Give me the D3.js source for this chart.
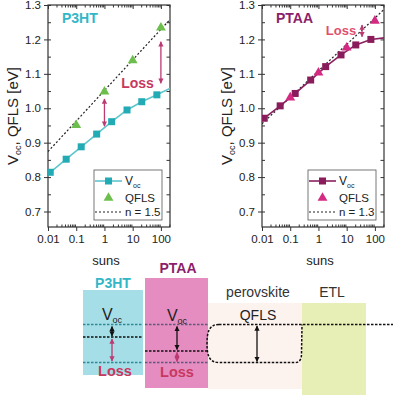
<!DOCTYPE html>
<html>
<head>
<meta charset="utf-8">
<script src="https://cdn.jsdelivr.net/npm/d3@7"></script>
<style>
  html, body { margin: 0; padding: 0; background: #fff; }
  svg { display: block; font-family: 'Liberation Sans', Arial, sans-serif; }
</style>
</head>
<body>
<div id="chart"></div>
<script>
'use strict';

// measured values (suns, eV)
const vocSuns = [0.012, 0.044, 0.15, 0.53, 1.8, 6.3, 21, 72, 300];
const p3htVoc = [0.814, 0.852, 0.888, 0.925, 0.961, 0.995, 1.019, 1.039, 1.064];
const ptaaVoc = [0.971, 1.007, 1.043, 1.082, 1.121, 1.155, 1.184, 1.200, 1.206];
const qflsSuns = [0.1, 1, 10, 100];
const p3htQfls = [0.954, 1.051, 1.142, 1.237];
const ptaaQfls = [1.034, 1.106, 1.179, 1.257];
const idealSuns = [0.01, 210];
const p3htIdeal = [0.874, 1.258];
const ptaaIdeal = [0.955, 1.287];
const p3htLoss = [{suns: 1, from: 0.948, to: 1.027}, {suns: 100, from: 1.073, to: 1.193}];
const ptaaLoss = [{suns: 35, from: 1.208, to: 1.242}];
const xTicks = [0.01, 0.1, 1, 10, 100];
const yTicks = [0.7, 0.8, 0.9, 1.0, 1.1, 1.2, 1.3];

// schematic
const layerNames = ['P3HT', 'PTAA', 'perovskite', 'ETL'];
const layerColors = ['#a5dee7', '#e58cc0', '#fcf2ee', '#e8efb6'];

const svg = d3.select('#chart').append('svg')
  .attr('width', 394)
  .attr('height', 399);

const defs = svg.append('defs');
function arrowMarker(id, color) {
  defs.append('marker')
    .attr('id', id)
    .attr('viewBox', '0 0 10 10')
    .attr('refX', 9).attr('refY', 5)
    .attr('markerWidth', 4).attr('markerHeight', 4)
    .attr('orient', 'auto-start-reverse')
    .append('path')
      .attr('d', 'M0,0 L10,5 L0,10 z')
      .attr('fill', color);
}
arrowMarker('arrowBlack', '#111');
arrowMarker('arrowPink', '#bb3a72');

class Chart {
  constructor(options) {
    this.left = options.left;
    this.right = options.right;
    this.top = 5;
    this.bottom = 227;
    this.name = options.name;
    this.nameColor = options.nameColor;
    this.voc = options.voc;
    this.qfls = options.qfls;
    this.ideal = options.ideal;
    this.idealLabel = options.idealLabel;
    this.loss = options.loss;
    this.lossLabel = options.lossLabel;
    this.lossColor = options.lossColor;
    this.lineColor = options.lineColor;
    this.squareColor = options.squareColor;
    this.triColor = options.triColor;
    this.clipId = options.clipId;
    this.titleX = options.titleX;
  }

  draw() {
    this.g = svg.append('g');
    this.x = d3.scaleLog().domain([0.01, 210]).range([this.left, this.right]);
    this.y = d3.scaleLinear().domain([0.655, 1.3]).range([this.bottom, this.top]);
    defs.append('clipPath').attr('id', this.clipId)
      .append('rect')
        .attr('x', this.left).attr('y', this.top)
        .attr('width', this.right - this.left)
        .attr('height', this.bottom - this.top);
    this.drawAxes();
    this.drawSeries();
    this.drawLegend();
    this.drawLabels();
  }

  drawAxes() {
    const minor = [];
    [0.01, 0.1, 1, 10, 100].forEach((d) => {
      for (let k = 2; k <= 9; k++) if (d * k <= 210) minor.push(d * k);
    });
    const yMinor = d3.range(0.7, 1.31, 0.05);
    const g = this.g;
    const tickStyle = (sel) => {
      sel.select('.domain').remove();
      sel.selectAll('line').attr('stroke', '#333').attr('stroke-width', 1);
      sel.selectAll('text').attr('fill', '#222').style('font-size', '11.5px');
    };

    g.append('g').attr('transform', `translate(0,${this.bottom})`)
      .call(d3.axisBottom(this.x).tickValues(xTicks).tickFormat(d3.format('~g'))
        .tickSize(4).tickPadding(4))
      .call(tickStyle);
    g.append('g').attr('transform', `translate(0,${this.bottom})`)
      .call(d3.axisBottom(this.x).tickValues(minor).tickFormat('').tickSize(-2.5))
      .call(tickStyle);
    g.append('g').attr('transform', `translate(0,${this.top})`)
      .call(d3.axisTop(this.x).tickValues(xTicks).tickFormat('').tickSize(-4))
      .call(tickStyle);
    g.append('g').attr('transform', `translate(0,${this.top})`)
      .call(d3.axisTop(this.x).tickValues(minor).tickFormat('').tickSize(-2.5))
      .call(tickStyle);
    g.append('g').attr('transform', `translate(${this.left},0)`)
      .call(d3.axisLeft(this.y).tickValues(yTicks).tickFormat(d3.format('.1f'))
        .tickSize(4).tickPadding(3))
      .call(tickStyle);
    g.append('g').attr('transform', `translate(${this.left},0)`)
      .call(d3.axisLeft(this.y).tickValues(yMinor).tickFormat('').tickSize(-3))
      .call(tickStyle);
    g.append('g').attr('transform', `translate(${this.right},0)`)
      .call(d3.axisRight(this.y).tickValues(yMinor).tickFormat('').tickSize(-3.5))
      .call(tickStyle);

    g.append('rect')
      .attr('x', this.left).attr('y', this.top)
      .attr('width', this.right - this.left)
      .attr('height', this.bottom - this.top)
      .attr('fill', 'none')
      .attr('stroke', '#333')
      .attr('stroke-width', 1.2);

    g.append('text')
      .attr('x', (this.left + this.right) / 2 - 3)
      .attr('y', 265)
      .attr('text-anchor', 'middle')
      .attr('fill', '#222')
      .style('font-size', '13px')
      .text('suns');

    const title = g.append('text')
      .attr('transform', `translate(${this.titleX},${(this.top + this.bottom) / 2}) rotate(-90)`)
      .attr('text-anchor', 'middle')
      .attr('fill', '#222')
      .style('font-size', '15px');
    title.append('tspan').text('V');
    title.append('tspan').attr('dy', 3).style('font-size', '9px').text('oc');
    title.append('tspan').attr('dy', -3).text(', QFLS [eV]');
  }

  drawSeries() {
    const plot = this.g.append('g').attr('clip-path', `url(#${this.clipId})`);

    plot.append('path')
      .datum(idealSuns.map((s, i) => [s, this.ideal[i]]))
      .attr('d', d3.line().x((d) => this.x(d[0])).y((d) => this.y(d[1])))
      .attr('fill', 'none')
      .attr('stroke', '#222')
      .attr('stroke-width', 1.2)
      .attr('stroke-dasharray', '2,2');

    const vocData = vocSuns.map((s, i) => [s, this.voc[i]]);
    plot.append('path')
      .datum(vocData)
      .attr('d', d3.line().x((d) => this.x(d[0])).y((d) => this.y(d[1])))
      .attr('fill', 'none')
      .attr('stroke', this.lineColor)
      .attr('stroke-width', 1.6);

    plot.selectAll('.sq')
      .data(vocData.filter((d) => d[0] < 210))
      .enter().append('rect')
        .attr('class', 'sq')
        .attr('x', (d) => this.x(d[0]) - 3.5)
        .attr('y', (d) => this.y(d[1]) - 3.5)
        .attr('width', 7).attr('height', 7)
        .attr('fill', this.squareColor);

    const tri = d3.symbol().type(d3.symbolTriangle).size(42);
    plot.selectAll('.tri')
      .data(qflsSuns.map((s, i) => [s, this.qfls[i]]))
      .enter().append('path')
        .attr('class', 'tri')
        .attr('d', tri)
        .attr('transform', (d) => `translate(${this.x(d[0])},${this.y(d[1]) + 1})`)
        .attr('fill', this.triColor);

    this.g.selectAll('.loss')
      .data(this.loss)
      .enter().append('line')
        .attr('class', 'loss')
        .attr('x1', (d) => this.x(d.suns)).attr('x2', (d) => this.x(d.suns))
        .attr('y1', (d) => this.y(d.from)).attr('y2', (d) => this.y(d.to))
        .attr('stroke', '#bb3a72')
        .attr('stroke-width', 1.3)
        .attr('marker-start', 'url(#arrowPink)')
        .attr('marker-end', 'url(#arrowPink)');
  }

  drawLegend() {
    const lx = this.right - 76, ly = 170;
    const g = this.g.append('g');
    g.append('rect')
      .attr('x', lx).attr('y', ly)
      .attr('width', 68).attr('height', 50)
      .attr('fill', '#fff')
      .attr('stroke', '#555')
      .attr('stroke-width', 0.8);
    g.append('line')
      .attr('x1', lx + 1).attr('x2', lx + 28)
      .attr('y1', ly + 11).attr('y2', ly + 11)
      .attr('stroke', this.lineColor).attr('stroke-width', 1.6);
    g.append('rect')
      .attr('x', lx + 11).attr('y', ly + 7.5)
      .attr('width', 7).attr('height', 7)
      .attr('fill', this.squareColor);
    g.append('path')
      .attr('d', d3.symbol().type(d3.symbolTriangle).size(42))
      .attr('transform', `translate(${lx + 14.5},${ly + 28})`)
      .attr('fill', this.triColor);
    g.append('line')
      .attr('x1', lx + 1).attr('x2', lx + 28)
      .attr('y1', ly + 42).attr('y2', ly + 42)
      .attr('stroke', '#222').attr('stroke-width', 1.2)
      .attr('stroke-dasharray', '2,2');

    const t1 = g.append('text')
      .attr('x', lx + 31).attr('y', ly + 15)
      .attr('fill', '#222').style('font-size', '12px');
    t1.append('tspan').text('V');
    t1.append('tspan').attr('dy', 3).style('font-size', '7px').text('oc');
    g.append('text')
      .attr('x', lx + 31).attr('y', ly + 32)
      .attr('fill', '#222').style('font-size', '11.5px')
      .text('QFLS');
    g.append('text')
      .attr('x', lx + 31).attr('y', ly + 46)
      .attr('fill', '#222').style('font-size', '11.5px')
      .text(this.idealLabel);
  }

  drawLabels() {
    this.g.append('text')
      .attr('x', this.left + 14).attr('y', 23)
      .attr('fill', this.nameColor)
      .style('font-size', '14px').style('font-weight', 'bold')
      .text(this.name);
    this.g.append('text')
      .attr('x', this.lossLabel.x).attr('y', this.lossLabel.y)
      .attr('text-anchor', 'middle')
      .attr('fill', this.lossColor)
      .style('font-size', this.lossLabel.size + 'px').style('font-weight', 'bold')
      .text('Loss');
  }
}

new Chart({
  left: 48, right: 170, name: 'P3HT', nameColor: '#33b7c6',
  voc: p3htVoc, qfls: p3htQfls, ideal: p3htIdeal, idealLabel: 'n = 1.5',
  loss: p3htLoss, lossLabel: {x: 137.5, y: 88, size: 14}, lossColor: '#c8385e',
  lineColor: '#5ec6cc', squareColor: '#22aab5', triColor: '#6cbf4c',
  clipId: 'clipA', titleX: 18
}).draw();

new Chart({
  left: 262, right: 384, name: 'PTAA', nameColor: '#8c1f6b',
  voc: ptaaVoc, qfls: ptaaQfls, ideal: ptaaIdeal, idealLabel: 'n = 1.3',
  loss: ptaaLoss, lossLabel: {x: 341, y: 35, size: 13}, lossColor: '#e0506e',
  lineColor: '#8b2060', squareColor: '#8b1c5c', triColor: '#d42a82',
  clipId: 'clipB', titleX: 232
}).draw();

// band diagram
const dia = svg.append('g');
const boxes = [
  {x: 83, y: 290, w: 60, h: 85},
  {x: 145, y: 278, w: 63, h: 110},
  {x: 208, y: 303, w: 94, h: 86},
  {x: 302, y: 303, w: 64, h: 92}
];
dia.selectAll('.layer')
  .data(layerNames)
  .enter().append('rect')
    .attr('class', 'layer')
    .attr('x', (d, i) => boxes[i].x).attr('y', (d, i) => boxes[i].y)
    .attr('width', (d, i) => boxes[i].w).attr('height', (d, i) => boxes[i].h)
    .attr('fill', (d, i) => layerColors[i]);

function dashed(x1, x2, y, color) {
  dia.append('line')
    .attr('x1', x1).attr('x2', x2).attr('y1', y).attr('y2', y)
    .attr('stroke', color).attr('stroke-width', 1.5)
    .attr('stroke-dasharray', '2.5,1.5');
}
dashed(83, 143, 324.5, '#2f8a98');
dashed(145, 208, 324.5, '#5d5a7c');
dashed(219, 393, 324.5, '#111');
dashed(83, 143, 337, '#111');
dashed(145, 207, 351, '#111');
dashed(83, 143, 362.5, '#2f8a98');
dashed(145, 208, 362.5, '#5d5a7c');
dia.append('path')
  .attr('d', 'M219,324.5 C209,324.5 207,332 207,343.5 C207,355 209,362.5 219,362.5 L295,362.5 Q301.5,362.5 301.5,354 L302,324.5')
  .attr('fill', 'none')
  .attr('stroke', '#111').attr('stroke-width', 1.5)
  .attr('stroke-dasharray', '2.5,1.5');

function arrow(x, y1, y2, pink) {
  dia.append('line')
    .attr('x1', x).attr('x2', x).attr('y1', y1).attr('y2', y2)
    .attr('stroke', pink ? '#bb3a72' : '#111')
    .attr('stroke-width', 1.3)
    .attr('marker-start', `url(#${pink ? 'arrowPink' : 'arrowBlack'})`)
    .attr('marker-end', `url(#${pink ? 'arrowPink' : 'arrowBlack'})`);
}
arrow(112, 326.5, 336, false);
arrow(112, 339, 361, true);
arrow(177, 326.5, 349.5, false);
arrow(177, 352.5, 361.5, true);
arrow(257, 326, 361.5, false);

function label(x, y, text, size, color, bold) {
  return dia.append('text')
    .attr('x', x).attr('y', y)
    .attr('text-anchor', 'middle')
    .attr('fill', color)
    .style('font-size', size + 'px')
    .style('font-weight', bold ? 'bold' : 'normal')
    .text(text);
}
label(113, 288, 'P3HT', 14, '#33b7c6', true);
label(178, 273, 'PTAA', 14, '#8c1f6b', true);
label(258, 297, 'perovskite', 14, '#333', false);
label(332, 297, 'ETL', 14, '#333', false);
label(258, 320, 'QFLS', 14, '#222', false);
label(115, 376, 'Loss', 14.5, '#c8385e', true);
label(177, 377, 'Loss', 14.5, '#c8385e', true);

[[112, 320], [177, 321]].forEach((p) => {
  const t = label(p[0], p[1], '', 16, '#222', false);
  t.append('tspan').text('V');
  t.append('tspan').attr('dy', 3).style('font-size', '9px').text('oc');
});
</script>
</body>
</html>
